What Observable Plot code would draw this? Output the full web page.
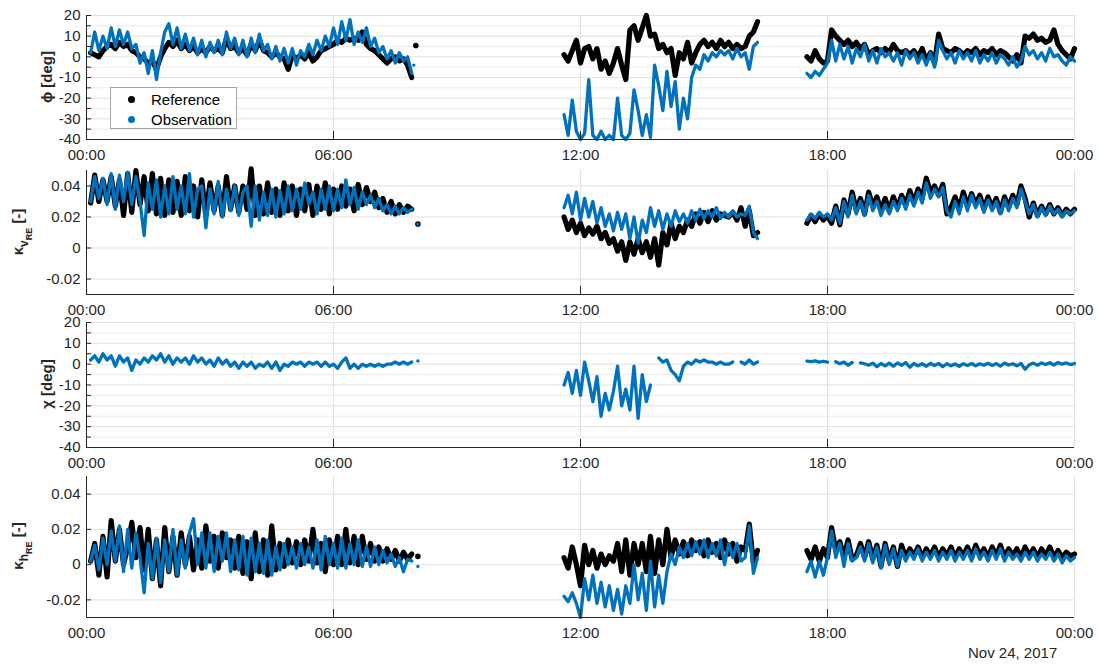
<!DOCTYPE html>
<html><head><meta charset="utf-8">
<script src="https://cdn.jsdelivr.net/npm/d3@7"></script>
<script src="https://cdn.jsdelivr.net/npm/@observablehq/plot@0.6"></script>
<style>
body{margin:0;background:#fff;}
#wrap{position:relative;width:1099px;height:666px;background:#fff;font-family:"Liberation Sans",Arial,Helvetica,sans-serif;overflow:hidden;color:#262626}
.panel{position:absolute;left:0}
.ylab{position:absolute;transform:translate(-50%,-50%) rotate(-90deg);white-space:nowrap;font-size:15px;font-weight:bold;line-height:16px;color:#262626;z-index:5}
.s1{position:relative;top:5px;font-size:12px;font-weight:bold}
.s2{position:relative;top:4px;font-size:9px;font-weight:bold}
#legend{position:absolute;left:110px;top:87px;width:125px;height:40px;border:1px solid #a6a6a6;background:#fff;z-index:10}
.ld{position:absolute;width:7px;height:7px;border-radius:50%}
.lt{position:absolute;left:40px;font-size:15px;line-height:17px;color:#000;white-space:nowrap}
#date{position:absolute;left:968px;top:644px;font-size:15px;line-height:18px;color:#262626;white-space:nowrap}
</style></head><body><div id="wrap"></div>
<script>
// ---------------- data (hours since Nov 24 2017 00:00, sampled every 0.1 h from segment start) ----------------
const segStarts = [0.1, 11.6, 17.5];
const STEP = 0.1;

// phi [deg]
const phiRefA = [2,1,0,3,5,6,4,7,5,6, 3,2,0,-1,-3,-2,-6,0,4,7, 5,8,4,6,3,5,2,4,2,5, 3,4,2,9,4,5,2,4,1,6, 3,8,3,2,0,2,0,-1,-6,1, -1,1,-1,2,-2,0,3,4,5,6, 8,7,9,8,9,8,12,6,4,3, 1,-1,-3,-1,0,-2,-1,-4,-10];
const phiObsA = [2,12,3,10,4,14,5,13,6,12, 4,6,-3,2,-8,3,-11,2,12,16, 6,14,4,11,3,9,1,8,0,7, 2,8,1,12,4,9,1,8,0,9, 2,11,3,6,-1,5,-2,4,-3,4, -4,3,0,6,1,8,3,10,5,14, 6,17,8,18,6,12,7,14,5,9, 2,5,-1,3,-3,2,-2,0,-8];
const phiRefB = [1,-2,3,8,-3,4,5,-1,4,-6, -2,-8,-3,4,-4,-11,13,15,8,14, 20,10,11,4,6,2,4,-9,2,-1, 7,-3,2,6,8,5,7,4,8,5, 7,4,6,4,5,10,12,17];
const phiObsB = [-28,-38,-21,-36,-40,-37,-11,-38,-40,-36, -40,-38,-40,-20,-38,-40,-37,-16,-26,-38, -28,-39,-4,-14,-26,-7,-24,-12,-35,-20, -30,-10,-4,-6,1,-2,2,0,3,1, 3,-1,4,0,2,-6,5,7];
const phiRefC = [0,-2,3,-1,-3,-2,13,10,8,6, 8,5,7,4,6,1,3,4,2,4, 2,6,3,2,3,1,3,0,4,-2, 2,-3,11,4,3,2,4,3,1,3, 2,4,1,3,2,4,1,3,2,0, -2,1,-3,10,9,11,8,9,7,8, 13,6,3,1,-1,4];
const phiObsC = [-8,-10,-7,-9,-6,-3,8,-2,6,-1, 5,-3,4,0,6,-2,3,-3,4,0, 2,-2,2,-4,3,-1,2,-3,1,-4, 2,-5,8,3,-1,2,-3,3,-1,2, -2,3,-3,1,-2,2,-3,1,-1,-4, 0,-5,-2,5,1,3,-1,2,-2,4, 0,1,-2,-4,0,-2];
const phiRefIso = [[8.0, 5.5]];
const phiObsIso = [[7.95, -4]];

// kappa_v_RE [-]
const kvRefA = [.029,.047,.030,.044,.030,.046,.027,.044,.021,.048, .023,.050,.028,.046,.024,.048,.022,.045,.021,.044, .023,.043,.021,.046,.024,.040,.020,.044,.021,.042, .024,.040,.021,.046,.025,.040,.023,.040,.025,.051, .021,.040,.022,.042,.023,.038,.021,.042,.024,.040, .021,.038,.024,.041,.021,.040,.025,.042,.022,.038, .025,.040,.027,.038,.024,.041,.028,.039,.030,.036, .026,.032,.023,.030,.022,.028,.023,.027,.025];
const kvObsA = [.030,.046,.032,.045,.028,.048,.025,.047,.030,.049, .028,.046,.030,.008,.042,.025,.044,.020,.040,.022, .046,.025,.040,.022,.048,.020,.038,.040,.013,.038, .022,.043,.020,.038,.024,.040,.021,.036,.040,.014, .040,.018,.036,.021,.038,.020,.037,.022,.040,.024, .038,.025,.042,.028,.036,.022,.038,.025,.040,.024, .038,.026,.044,.028,.039,.025,.036,.028,.034,.026, .032,.024,.028,.022,.027,.022,.026,.023,.025];
const kvRefB = [.020,.012,.018,.010,.016,.008,.013,.009,.014,.006, .010,.003,.006,-.002,.004,-.008,.004,-.004,.006,-.003, .004,-.006,.006,-.011,.010,.002,.016,.006,.014,.010, .018,.014,.022,.016,.023,.017,.024,.018,.022,.021, .020,.023,.018,.026,.014,.024,.008,.010];
const kvObsB = [.026,.034,.022,.036,.018,.032,.020,.030,.016,.026, .014,.022,.011,.023,.012,.022,.006,.020,.003,.018, .010,.026,.014,.024,.012,.022,.014,.024,.017,.022, .016,.024,.018,.025,.019,.024,.020,.026,.019,.023, .020,.024,.020,.022,.021,.027,.010,.006];
const kvRefC = [.016,.021,.017,.022,.018,.021,.016,.027,.015,.031, .022,.036,.024,.032,.022,.036,.027,.033,.024,.032, .024,.033,.026,.034,.028,.037,.029,.038,.032,.045, .036,.040,.034,.041,.022,.026,.033,.025,.036,.027, .035,.028,.034,.025,.033,.026,.032,.023,.033,.026, .034,.028,.040,.032,.020,.029,.021,.027,.022,.028, .022,.026,.021,.025,.022,.025];
const kvObsC = [.018,.022,.019,.023,.020,.022,.018,.026,.016,.030, .020,.034,.022,.030,.021,.034,.024,.030,.021,.028, .022,.030,.024,.032,.025,.034,.027,.036,.029,.042, .032,.038,.033,.039,.024,.020,.030,.022,.033,.024, .034,.026,.032,.023,.031,.024,.030,.022,.031,.024, .032,.026,.038,.030,.022,.028,.020,.026,.021,.027, .022,.025,.020,.024,.022,.024];
const kvRefIso = [[8.05, 0.0155]];
const kvObsIso = [[8.05, 0.0155]];

// chi [deg] (observation only)
const chiObsA = [2,4,1,5,2,4,-1,4,1,3, -3,2,0,3,1,4,2,5,1,4, 0,3,1,3,0,4,1,3,0,2, -1,3,0,2,-1,1,-2,1,-1,1, -2,0,-1,1,-2,1,-3,0,-1,1, 0,1,-1,1,0,1,-1,1,-1,0, -2,1,3,-2,0,-2,0,-1,0,-1, 0,-1,0,0,1,0,1,0,1];
const chiObsB = [-10,-4,-14,-3,-15,1,-8,-18,-6,-25, -14,-22,-13,-1,-20,-12,-22,-1,-26,-5, -18,-10,null,3,1,2,-3,-5,-8,-1, 1,0,2,1,2,1,1,0,1,0, 0,1,null,1,0,2,0,1];
const chiObsC = [1.5,1.2,1.6,1.0,1.4,1.0,null,1.2,0.2,1.0, -0.5,0.8,null,0.6,0.2,-0.5,0.5,-1.2,0.3,-0.8, 0.5,-1.0,0.6,-0.6,0.8,-1.5,0.3,-0.8,0.2,-1.0, 0.4,-0.6,0.3,-1.2,0.2,-0.8,0.1,-1.0,0.2,-0.6, 0.3,-0.8,0.2,-0.5,0.4,-0.6,0.3,-0.9,0.5,-0.4, 0.2,-0.8,0.3,-2.4,-0.3,0.5,-0.5,0.6,-0.2,0.7, -0.4,0.8,0.0,0.6,-0.2,0.3];
const chiObsIso = [[8.05, 1.5]];

// kappa_h_RE [-]
const khRefA = [.002,.012,-.006,.016,-.007,.025,.002,.020,.000,.010, .024,.004,.021,-.003,.020,-.008,.014,-.012,.021,-.004, .016,-.006,.018,.000,.016,-.003,.014,-.002,.022,.002, .016,-.002,.018,.004,.014,-.002,.016,-.005,.013,-.008, .018,-.004,.014,-.006,.022,-.003,.012,-.001,.014,.001, .013,.000,.014,.002,.020,.001,.012,-.004,.014,.000, .016,.000,.020,.001,.016,.000,.016,.003,.012,.002, .010,.002,.009,.003,.008,.002,.007,.003,.006];
const khObsA = [.002,.011,-.003,.015,.000,.019,.002,.022,-.004,.020, -.002,.018,.004,-.016,.012,-.008,.015,-.010,.014,-.004, .020,-.006,.014,-.002,.018,.026,.000,.018,-.002,.018, -.004,.016,.002,.018,-.004,.014,-.003,.016,-.006,.015, -.004,.012,-.005,.014,-.006,.010,-.003,.012,.000,.010, -.002,.012,.000,.010,-.002,.014,-.003,.016,.000,.012, -.002,.015,-.002,.012,.000,.014,-.001,.010,-.001,.010, .000,.008,.001,.006,-.001,.004,-.004,.003,.002];
const khRefB = [.004,-.002,.010,.000,-.012,.011,.000,.008,-.002,.006, .000,.005,.002,.012,-.004,.014,-.006,.012,.000,.012, -.004,.016,-.005,.014,.000,.020,.004,.014,.006,.013, .005,.014,.008,.013,.005,.014,.007,.012,.004,.014, .006,.012,.002,.010,.008,.023,.001,.008];
const khObsB = [-.018,-.021,-.016,-.022,-.030,-.008,-.020,-.006,-.022,-.010, -.024,-.012,-.026,-.014,-.028,-.012,-.022,.000,-.020,-.005, -.026,.002,-.024,-.006,-.022,-.004,.006,.000,.010,.004, .012,.005,.013,.006,.014,.004,.012,.005,.014,.000, .012,.004,.012,.002,.004,.022,-.005,.004];
const khRefC = [.008,.003,.010,.002,.009,.004,.021,.008,.013,.004, .014,.003,.005,.012,.004,.013,.003,.011,-.001,.012, .002,.010,-.001,.011,.004,.009,.005,.010,.004,.009, .005,.010,.004,.009,.005,.010,.004,.009,.005,.010, .004,.011,.005,.009,.004,.010,.005,.011,.004,.009, .005,.009,.004,.010,.005,.009,.004,.009,.005,.010, .004,.008,.004,.007,.005,.006];
const khObsC = [-.004,.002,-.007,.002,-.006,.004,.019,.004,.012,-.001, .012,.002,.004,.010,.002,.012,.001,.010,-.002,.011, .000,.009,-.001,.008,.002,.007,.003,.009,.002,.007, .003,.008,.002,.007,.003,.008,.002,.007,.003,.008, .002,.009,.003,.007,.002,.008,.003,.009,.002,.007, .003,.006,.002,.007,.003,.007,.002,.006,.003,.007, .002,.006,.001,.005,.002,.004];
const khRefIso = [[8.05, 0.0047]];
const khObsIso = [[8.05, -0.001]];

// axis ticks
const xTickHours = [0, 6, 12, 18, 24];
const degTicks = [-40, -30, -20, -10, 0, 10, 20];
const degMinor = [-35, -25, -15, -5, 5, 15];
const kTicks = [-0.02, 0, 0.02, 0.04];
const legendNames = ["Reference", "Observation"];
const dateLabel = "Nov 24, 2017";

// ---------------- rendering ----------------
const HOUR = 3600e3;
const T0 = Date.UTC(2017, 10, 24);
const toDate = h => new Date(T0 + h * HOUR);
const BLUE = "#0072BD", AX = "#262626", TXT = "#262626";
const FONT = "Liberation Sans, Arial, Helvetica, sans-serif";

function build(segs) {
  const rows = [];
  segs.forEach((vals, s) => vals.forEach((v, i) =>
    rows.push({date: toDate(segStarts[s] + i * STEP), v: v == null ? NaN : v, seg: s})));
  return rows;
}
const iso = arr => arr.map(([h, v]) => ({date: toDate(h), v}));

const degFmt = d => String(d);
const kFmt = d => d === 0 ? "0" : d.toFixed(2);

const panels = [
  {top: 15, bottom: 139, domain: [-40, 20], ticks: degTicks, minor: degMinor, fmt: degFmt,
   ref: build([phiRefA, phiRefB, phiRefC]), obs: build([phiObsA, phiObsB, phiObsC]), refIso: iso(phiRefIso), obsIso: iso(phiObsIso)},
  {top: 170, bottom: 294, domain: [-0.03, 0.05], ticks: kTicks, minor: [], fmt: kFmt,
   ref: build([kvRefA, kvRefB, kvRefC]), obs: build([kvObsA, kvObsB, kvObsC]), refIso: iso(kvRefIso), obsIso: iso(kvObsIso)},
  {top: 322, bottom: 447, domain: [-40, 20], ticks: degTicks, minor: degMinor, fmt: degFmt,
   ref: null, obs: build([chiObsA, chiObsB, chiObsC]), refIso: [], obsIso: iso(chiObsIso)},
  {top: 476, bottom: 617, domain: [-0.03, 0.05], ticks: kTicks, minor: [], fmt: kFmt,
   ref: build([khRefA, khRefB, khRefC]), obs: build([khObsA, khObsB, khObsC]), refIso: iso(khRefIso), obsIso: iso(khObsIso)}
];

const wrap = document.getElementById("wrap");
const MT = 8, MB = 30;
const xT = xTickHours.map(toDate);

panels.forEach(p => {
  const H = p.bottom - p.top;
  const marks = [
    Plot.ruleY(p.minor, {stroke: "#ebebeb"}),
    Plot.ruleY(p.ticks.filter(t => t !== p.domain[0]), {stroke: "#e1e1e1"}),
    Plot.ruleX(xT.slice(1), {stroke: "#e1e1e1"}),
  ];
  if (p.ref) marks.push(Plot.line(p.ref, {x: "date", y: "v", z: "seg", stroke: "#000", strokeWidth: 5.2, strokeLinejoin: "round", strokeLinecap: "round"}));
  marks.push(Plot.dot(p.refIso, {x: "date", y: "v", r: 2.8, fill: "#000"}));
  marks.push(Plot.line(p.obs, {x: "date", y: "v", z: "seg", stroke: BLUE, strokeWidth: 3.3, strokeLinejoin: "round", strokeLinecap: "round"}));
  marks.push(Plot.dot(p.obsIso, {x: "date", y: "v", r: 1.7, fill: BLUE}));
  marks.push(
    Plot.ruleX([xT[0]], {stroke: AX}),
    Plot.ruleY([p.domain[0]], {stroke: AX}),
    Plot.axisY(p.ticks, {tickFormat: p.fmt, tickSize: 0, tickPadding: 6, fill: TXT, label: null, fontSize: 15}),
    Plot.axisY(p.ticks.concat(p.minor), {tickSize: 5, dx: 5, stroke: AX, fill: "none", label: null}),
    Plot.axisX(xT, {tickFormat: d3.utcFormat("%H:%M"), tickSize: 0, tickPadding: 10, fill: TXT, label: null, fontSize: 15}),
    Plot.axisX(xT.slice(1, 4), {tickSize: 8, dy: -8, stroke: AX, fill: "none", label: null})
  );
  const svg = Plot.plot({
    width: 1099, height: MT + H + MB,
    marginTop: MT, marginBottom: MB, marginLeft: 86, marginRight: 25,
    style: {background: "transparent", fontFamily: FONT, fontSize: "15px", color: TXT, overflow: "visible"},
    x: {type: "utc", domain: [xT[0], xT[4]]},
    y: {domain: p.domain},
    marks
  });
  svg.classList.add("panel");
  svg.style.position = "absolute";
  svg.style.top = (p.top - MT) + "px";
  svg.style.left = "0px";
  wrap.appendChild(svg);
});

// y labels
const ylabs = [
  {x: 47, y: 77, html: "ϕ [deg]"},
  {x: 19, y: 232, html: "κ<span class='s1'>v<span class='s2'>RE</span></span> [-]"},
  {x: 47, y: 384, html: "χ [deg]"},
  {x: 19, y: 546, html: "κ<span class='s1'>h<span class='s2'>RE</span></span> [-]"}
];
ylabs.forEach(l => {
  const d = document.createElement("div");
  d.className = "ylab";
  d.style.left = l.x + "px";
  d.style.top = l.y + "px";
  d.innerHTML = l.html;
  wrap.appendChild(d);
});

// legend
const leg = document.createElement("div");
leg.id = "legend";
[["#000", legendNames[0]], [BLUE, legendNames[1]]].forEach(([c, name], i) => {
  const dot = document.createElement("div");
  dot.className = "ld";
  dot.style.background = c;
  dot.style.left = "17px";
  dot.style.top = (8 + i * 20) + "px";
  leg.appendChild(dot);
  const t = document.createElement("div");
  t.className = "lt";
  t.style.top = (3 + i * 20) + "px";
  t.textContent = name;
  leg.appendChild(t);
});
wrap.appendChild(leg);

const dl = document.createElement("div");
dl.id = "date";
dl.textContent = dateLabel;
wrap.appendChild(dl);
</script></body></html>
